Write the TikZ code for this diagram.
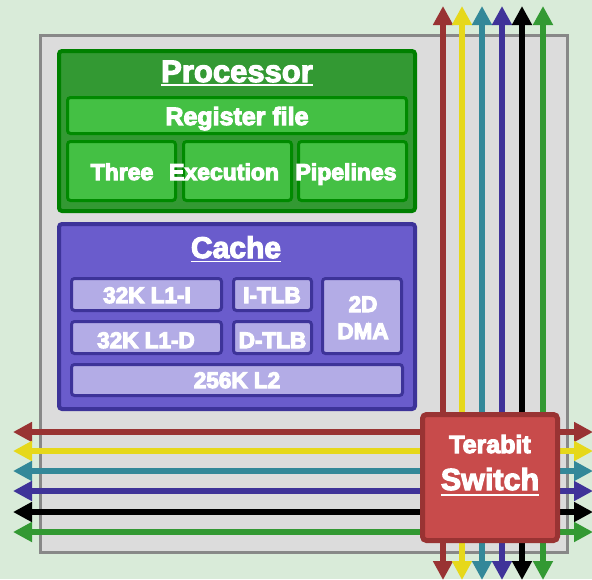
\documentclass[tikz,border=0pt]{standalone}
\usepackage{fontspec}
\setmainfont{Liberation Sans}
\usetikzlibrary{arrows.meta}

\definecolor{bgGreen}{HTML}{D9EBD9}
\definecolor{chipFill}{HTML}{DCDCDC}
\definecolor{chipLine}{HTML}{888888}
\definecolor{procFill}{HTML}{339933}
\definecolor{procLine}{HTML}{008000}
\definecolor{unitFill}{HTML}{44C044}
\definecolor{unitLine}{HTML}{008A00}
\definecolor{cacheFill}{HTML}{6A5CCC}
\definecolor{cacheLine}{HTML}{3D3399}
\definecolor{memFill}{HTML}{B3ACE6}
\definecolor{swFill}{HTML}{C84B4B}
\definecolor{swLine}{HTML}{993333}
\definecolor{busRed}{HTML}{993333}
\definecolor{busYellow}{HTML}{E6D81A}
\definecolor{busTeal}{HTML}{338899}
\definecolor{busBlue}{HTML}{3F3399}
\definecolor{busBlack}{HTML}{000000}
\definecolor{busGreen}{HTML}{339933}

% heavy white lettering: fill and stroke the glyphs
\newcommand{\heavytext}[1]{\special{pdf:literal direct 2 Tr 1.1 w 1 1 1 RG}#1\special{pdf:literal direct 0 Tr}}

\tikzset{
  blockbox/.style={rounded corners=3pt},
  proc/.style={blockbox, fill=procFill, draw=procLine, line width=4pt},
  unit/.style={blockbox, fill=unitFill, draw=unitLine, line width=3pt},
  cachebox/.style={blockbox, fill=cacheFill, draw=cacheLine, line width=4pt},
  mem/.style={blockbox, fill=memFill, draw=cacheLine, line width=3pt},
  switchbox/.style={rounded corners=4pt, fill=swFill, draw=swLine, line width=5pt},
  lbl/.style={text=white, inner sep=0pt, anchor=base, font=\bfseries\fontsize{22.5}{27}\selectfont},
  biglbl/.style={lbl, font=\bfseries\fontsize{31}{36}\selectfont},
  reglbl/.style={lbl, font=\bfseries\fontsize{25}{30}\selectfont},
  tlbl/.style={lbl, font=\bfseries\fontsize{25}{30}\selectfont},
  uline/.style={draw=white, line width=1.6pt},
  bus/.style={line width=6pt, {Triangle[length=19pt,width=19pt]}-{Triangle[length=19pt,width=19pt]}},
}

\begin{document}
\begin{tikzpicture}[x=1pt, y=-1pt]
  % canvas
  \fill[bgGreen] (0,0) rectangle (592,579);
  \useasboundingbox (0,0) rectangle (592,579);

  % chip outline
  \filldraw[fill=chipFill, draw=chipLine, line width=3pt] (40.5,35.5) rectangle (567.5,552.5);

  % processor block
  \draw[proc] (59,51) rectangle (415,211);
  \node[biglbl] (proctitle) at (237,82) {\heavytext{Processor}};
  \draw[uline] ([yshift=-3pt]proctitle.base west) -- ([yshift=-3pt]proctitle.base east);
  \draw[unit] (67.5,97.5) rectangle (406.5,133.5);
  \node[reglbl] (regfile) at (237,125) {\heavytext{Register file}};
  \draw[unit] (67.5,141.5) rectangle (175.5,200.5);
  \draw[unit] (183.5,141.5) rectangle (291.5,200.5);
  \draw[unit] (298.5,141.5) rectangle (406.5,200.5);
  \node[lbl, font=\bfseries\fontsize{23}{28}\selectfont] (pipeA) at (122,180) {\heavytext{Three}};
  \node[lbl, font=\bfseries\fontsize{23}{28}\selectfont] (pipeB) at (224,180) {\heavytext{Execution}};
  \node[lbl, font=\bfseries\fontsize{23}{28}\selectfont] (pipeC) at (346,180) {\heavytext{Pipelines}};

  % cache block
  \draw[cachebox] (59,224) rectangle (415,409);
  \node[biglbl, font=\bfseries\fontsize{30}{35}\selectfont] (cachetitle) at (236,258) {\heavytext{Cache}};
  \draw[uline] ([yshift=-3.5pt]cachetitle.base west) -- ([yshift=-3.5pt]cachetitle.base east);
  \draw[mem] (71.5,278.5) rectangle (221.5,310.5);
  \draw[mem] (233.5,278.5) rectangle (311.5,310.5);
  \draw[mem] (71.5,321.5) rectangle (221.5,353.5);
  \draw[mem] (233.5,321.5) rectangle (311.5,353.5);
  \draw[mem] (322.5,278.5) rectangle (401.5,353.5);
  \draw[mem] (71.5,364.5) rectangle (402.5,395.5);
  \node[lbl] (l1i) at (147,303) {\heavytext{32K L1-I}};
  \node[lbl] (itlb) at (272,303) {\heavytext{I-TLB}};
  \node[lbl] (l1d) at (146,348) {\heavytext{32K L1-D}};
  \node[lbl] (dtlb) at (272.5,348) {\heavytext{D-TLB}};
  \node[lbl] (dmaA) at (363,312) {\heavytext{2D}};
  \node[lbl] (dmaB) at (363,339) {\heavytext{DMA}};
  \node[lbl] (ltwo) at (237,388) {\heavytext{256K L2}};

  % bus end points
  \foreach \i/\x in {1/443,2/462,3/482,4/502,5/522,6/543}{
    \coordinate (vt\i) at (\x,6);
    \coordinate (vb\i) at (\x,580);
  }
  \foreach \i/\y in {1/432,2/451,3/471,4/491,5/512,6/532}{
    \coordinate (hl\i) at (13,\y);
    \coordinate (hr\i) at (593,\y);
  }

  % buses
  \foreach \i/\c in {1/busRed,2/busYellow,3/busTeal,4/busBlue,5/busBlack,6/busGreen}{
    \draw[bus, draw=\c, fill=\c] (hl\i) -- (hr\i);
    \draw[bus, draw=\c, fill=\c] (vb\i) -- (vt\i);
  }

  % switch
  \draw[switchbox] (422.5,414.5) rectangle (557.5,540.5);
  \node[tlbl] (swA) at (490,453) {\heavytext{Terabit}};
  \node[biglbl, font=\bfseries\fontsize{30.5}{36}\selectfont] (swB) at (490,490) {\heavytext{Switch}};
  \draw[uline] ([yshift=-5pt]swB.base west) -- ([yshift=-5pt]swB.base east);
\end{tikzpicture}
\end{document}
